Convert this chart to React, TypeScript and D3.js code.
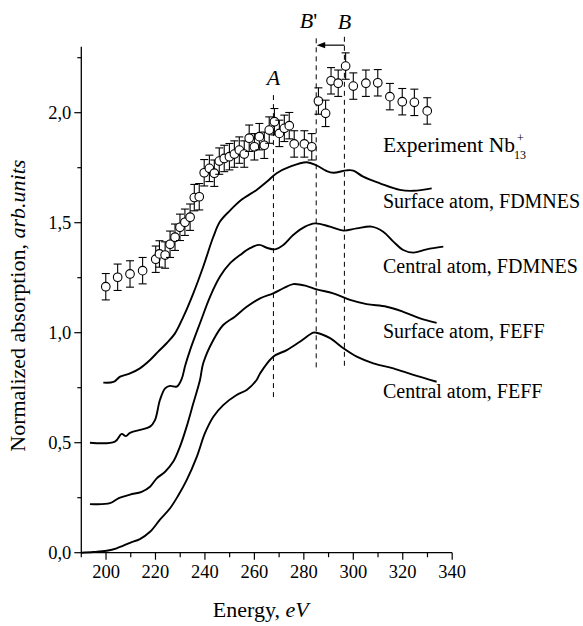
import React from "react";
import * as d3 from "d3";

// ---------- data ----------
const expE = [199.9, 204.7, 209.7, 214.8, 220.1, 221.6, 223.9, 225.9, 227.9, 229.9, 231.9, 234.0, 235.7, 237.7, 239.7, 241.8, 243.8, 245.8, 247.8, 249.9, 251.9, 253.9, 255.9, 257.9, 260.0, 262.0, 264.0, 266.0, 268.1, 270.1, 272.1, 274.1, 276.1, 280.2, 283.2, 285.9, 288.8, 291.0, 293.9, 296.9, 300.0, 305.1, 309.9, 314.8, 319.8, 324.7, 329.9];
const expV = [1.209, 1.252, 1.267, 1.282, 1.334, 1.358, 1.353, 1.402, 1.434, 1.479, 1.502, 1.525, 1.614, 1.618, 1.727, 1.747, 1.725, 1.780, 1.792, 1.800, 1.812, 1.830, 1.812, 1.884, 1.845, 1.891, 1.852, 1.921, 1.959, 1.906, 1.929, 1.941, 1.858, 1.858, 1.845, 2.053, 1.997, 2.145, 2.134, 2.212, 2.121, 2.134, 2.136, 2.073, 2.050, 2.047, 2.008];
const EXP_ERR = 0.06;

const surfFdmnesE = [198.9, 203.0, 205.7, 209.7, 213.7, 217.8, 221.1, 224.5, 227.9, 231.3, 235.3, 239.3, 243.4, 246.1, 250.1, 254.9, 260.9, 265.0, 269.0, 274.4, 281.2, 285.2, 289.2, 291.9, 297.3, 300.0, 304.0, 310.8, 318.9, 324.3, 331.7];
const surfFdmnesV = [0.773, 0.776, 0.800, 0.815, 0.838, 0.876, 0.914, 0.952, 0.997, 1.073, 1.179, 1.300, 1.436, 1.505, 1.555, 1.605, 1.649, 1.686, 1.725, 1.755, 1.775, 1.760, 1.735, 1.727, 1.738, 1.737, 1.709, 1.679, 1.649, 1.645, 1.656];

const centFdmnesE = [193.5, 203.6, 206.3, 208.0, 209.7, 213.7, 217.8, 219.8, 221.8, 223.9, 225.9, 228.6, 230.6, 232.0, 234.0, 238.0, 242.1, 246.1, 250.1, 254.2, 258.2, 262.0, 265.0, 268.3, 271.7, 275.7, 280.5, 284.5, 290.6, 296.0, 301.4, 307.4, 312.1, 316.2, 320.2, 324.3, 329.7, 336.4];
const centFdmnesV = [0.500, 0.505, 0.540, 0.530, 0.545, 0.558, 0.573, 0.603, 0.694, 0.747, 0.758, 0.755, 0.790, 0.850, 0.921, 1.043, 1.164, 1.255, 1.315, 1.353, 1.384, 1.399, 1.386, 1.379, 1.399, 1.444, 1.482, 1.497, 1.482, 1.464, 1.474, 1.482, 1.459, 1.414, 1.376, 1.364, 1.379, 1.391];

const surfFeffE = [193.5, 201.6, 205.0, 209.7, 214.4, 217.8, 220.5, 223.9, 227.2, 229.9, 232.6, 235.3, 238.0, 239.3, 243.4, 247.4, 252.1, 256.9, 262.3, 267.6, 271.7, 275.7, 281.2, 285.2, 291.9, 298.7, 305.4, 313.5, 320.2, 327.0, 333.7];
const surfFeffV = [0.221, 0.225, 0.247, 0.264, 0.277, 0.300, 0.338, 0.368, 0.414, 0.482, 0.573, 0.679, 0.785, 0.861, 0.967, 1.035, 1.073, 1.118, 1.156, 1.179, 1.202, 1.221, 1.212, 1.197, 1.179, 1.149, 1.130, 1.118, 1.095, 1.065, 1.045];

const centFeffE = [190.0, 194.9, 200.3, 204.3, 209.7, 213.7, 217.8, 221.8, 225.9, 229.2, 232.6, 236.7, 240.0, 243.4, 247.4, 252.8, 256.9, 260.9, 262.3, 267.6, 273.1, 278.4, 283.8, 285.0, 290.6, 296.0, 301.4, 308.1, 316.2, 324.3, 333.7];
const centFeffV = [0.000, 0.003, 0.009, 0.020, 0.045, 0.062, 0.095, 0.150, 0.202, 0.260, 0.330, 0.436, 0.543, 0.618, 0.671, 0.717, 0.740, 0.785, 0.815, 0.891, 0.921, 0.959, 1.000, 1.000, 0.975, 0.929, 0.891, 0.861, 0.838, 0.808, 0.777];

const xTicks = [200, 220, 240, 260, 280, 300, 320, 340];
const xMinorTicks = [190, 210, 230, 250, 270, 290, 310, 330];
const yTicks = [0, 0.5, 1.0, 1.5, 2.0];
const yTickLabels = ["0,0", "0,5", "1,0", "1,5", "2,0"];
const yMinorTicks = [0.25, 0.75, 1.25, 1.75, 2.25];

const curveLabels = ["Surface atom, FDMNES", "Central atom, FDMNES", "Surface atom, FEFF", "Central atom, FEFF"];
const curveLabelV = [1.567, 1.271, 0.976, 0.703];
const expLabelV = 1.821;
const labelE = 312.0;

// reference lines: energy, bottom value, top value
const refNames = ["A", "B'", "B"];
const refE = [267.7, 285.0, 296.4];
const refBottom = [0.694, 0.83, 0.84];
const refTop = [2.08, 2.338, 2.345];
const arrowV = 2.307;

const FONT = "'Liberation Serif', 'Times New Roman', Times, serif";

export default function App() {
  const x = d3.scaleLinear().domain([190, 340]).range([81.3, 452.2]);
  const y = d3.scaleLinear().domain([0, 2.3]).range([552.7, 46.7]);

  const line = d3
    .line<[number, number]>()
    .x((d) => x(d[0]))
    .y((d) => y(d[1]))
    .curve(d3.curveCatmullRom.alpha(0.5));

  const curves = [
    [surfFdmnesE, surfFdmnesV],
    [centFdmnesE, centFdmnesV],
    [surfFeffE, surfFeffV],
    [centFeffE, centFeffV],
  ].map(([es, vs]) => line(es.map((e, i) => [e, vs[i]] as [number, number])) || "");

  const x0 = x(190);
  const x1 = x(340);
  const yBase = y(0);
  const yTop = y(2.3);

  return (
    <div style={{ position: "absolute", left: 0, top: 0 }}>
      <svg width={583} height={626} style={{ display: "block", background: "#fff" }} fontFamily={FONT}>
        {/* axes */}
        <line x1={x0} x2={x0} y1={yBase + 0.6} y2={yTop} stroke="#000" strokeWidth={1.3} />
        <line x1={x0} x2={x1} y1={yBase} y2={yBase} stroke="#000" strokeWidth={1.3} />
        {yTicks.map((t, i) => (
          <g key={"yt" + i}>
            <line x1={x0 - 7} x2={x0} y1={y(t)} y2={y(t)} stroke="#000" strokeWidth={1.2} />
            <text x={x0 - 10} y={y(t)} dy="0.35em" textAnchor="end" fontSize={18.5}>
              {yTickLabels[i]}
            </text>
          </g>
        ))}
        {yMinorTicks.map((t, i) => (
          <line key={"ym" + i} x1={x0 - 4} x2={x0} y1={y(t)} y2={y(t)} stroke="#000" strokeWidth={1.2} />
        ))}
        {xTicks.map((t, i) => (
          <g key={"xt" + i}>
            <line x1={x(t)} x2={x(t)} y1={yBase} y2={yBase + 7} stroke="#000" strokeWidth={1.2} />
            <text x={x(t)} y={yBase + 25} textAnchor="middle" fontSize={18.5}>
              {t}
            </text>
          </g>
        ))}
        {xMinorTicks.map((t, i) => (
          <line key={"xm" + i} x1={x(t)} x2={x(t)} y1={yBase} y2={yBase + 4.5} stroke="#000" strokeWidth={1.2} />
        ))}

        {/* axis titles */}
        <text x={(x0 + x1) / 2 - 6} y={617} textAnchor="middle" fontSize={22}>
          Energy, <tspan fontStyle="italic">eV</tspan>
        </text>
        <text transform={`translate(25, ${(yBase + yTop) / 2 + 6}) rotate(-90)`} textAnchor="middle" fontSize={22}>
          Normalized absorption, <tspan fontStyle="italic">arb.units</tspan>
        </text>

        {/* reference dashed lines */}
        {refE.map((e, i) => (
          <line
            key={"ref" + i}
            x1={x(e)}
            x2={x(e)}
            y1={y(refTop[i])}
            y2={y(refBottom[i])}
            stroke="#000"
            strokeWidth={1}
            strokeDasharray="5,4"
          />
        ))}
        <text x={x(refE[0])} y={y(refTop[0]) - 10} textAnchor="middle" fontSize={22} fontStyle="italic">
          {refNames[0]}
        </text>
        <text x={x(refE[1]) + 1} y={y(refTop[1]) - 10} textAnchor="end" fontSize={22}>
          <tspan fontStyle="italic">B</tspan>'
        </text>
        <text x={x(refE[2])} y={y(refTop[2]) - 8} textAnchor="middle" fontSize={22} fontStyle="italic">
          {refNames[2]}
        </text>
        {/* arrow B -> B' */}
        <line x1={x(refE[2])} x2={x(refE[1]) + 7} y1={y(arrowV)} y2={y(arrowV)} stroke="#000" strokeWidth={1.2} />
        <path
          d={`M${x(refE[1]) + 0.5},${y(arrowV)} L${x(refE[1]) + 9},${y(arrowV) - 3.2} L${x(refE[1]) + 9},${y(arrowV) + 3.2} Z`}
          fill="#000"
        />

        {/* theory curves */}
        {curves.map((d, i) => (
          <path key={"c" + i} d={d} fill="none" stroke="#000" strokeWidth={1.9} strokeLinejoin="round" />
        ))}

        {/* experiment */}
        {expE.map((e, i) => {
          const cx = x(e);
          const cy = y(expV[i]);
          const yt = y(expV[i] + EXP_ERR);
          const yb = y(expV[i] - EXP_ERR);
          return (
            <g key={"p" + i} stroke="#000" strokeWidth={1.1}>
              <line x1={cx} x2={cx} y1={yt} y2={yb} />
              <line x1={cx - 4} x2={cx + 4} y1={yt} y2={yt} />
              <line x1={cx - 4} x2={cx + 4} y1={yb} y2={yb} />
              <circle cx={cx} cy={cy} r={4.3} fill="#fff" />
            </g>
          );
        })}

        {/* labels */}
        <text x={x(labelE)} y={y(expLabelV)} fontSize={21.5}>
          Experiment Nb
        </text>
        <text x={x(labelE) + 134} y={y(expLabelV) - 10} fontSize={12}>
          +
        </text>
        <text x={x(labelE) + 131} y={y(expLabelV) + 7} fontSize={12}>
          13
        </text>
        {curveLabels.map((s, i) => (
          <text key={"l" + i} x={x(labelE)} y={y(curveLabelV[i])} fontSize={20}>
            {s}
          </text>
        ))}
      </svg>
    </div>
  );
}
